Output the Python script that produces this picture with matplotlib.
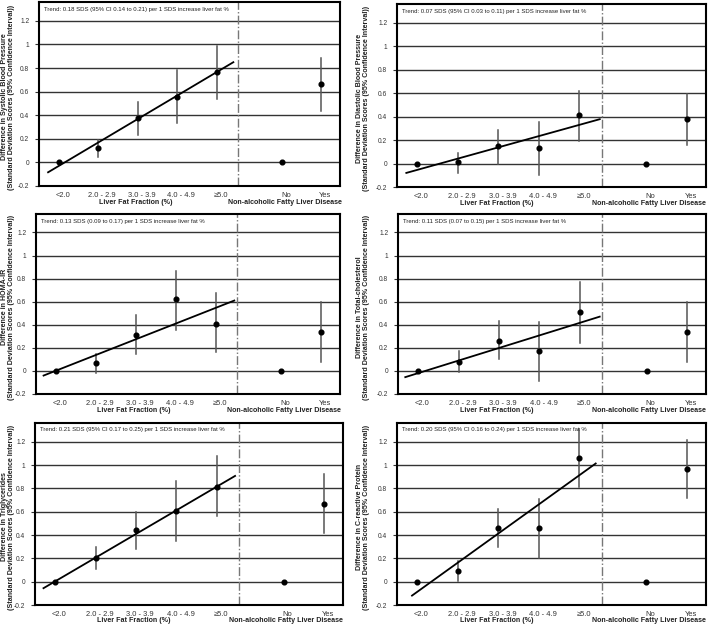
import matplotlib
matplotlib.use("Agg")
import matplotlib.pyplot as plt
import matplotlib.transforms as mtransforms

plt.rcParams['font.family'] = ['Liberation Sans', 'DejaVu Sans']

# ---- data ----
fat_categories = ["<2.0", "2.0 - 2.9", "3.0 - 3.9", "4.0 - 4.9", "\u22655.0"]
nafld_categories = ["No", "Yes"]
yticks = [-0.2, 0, 0.2, 0.4, 0.6, 0.8, 1, 1.2]
ytick_labels = ["-0.2", "0", "0.2", "0.4", "0.6", "0.8", "1", "1.2"]

titles = [
    "Difference in Systolic Blood Pressure",
    "Difference in Diastolic Blood Pressure",
    "Difference in HOMA-IR",
    "Difference in Total-cholesterol",
    "Difference in Triglycerides",
    "Difference in C-reactive Protein",
]
trend_texts = [
    "Trend: 0.18 SDS (95% CI 0.14 to 0.21) per 1 SDS increase liver fat %",
    "Trend: 0.07 SDS (95% CI 0.03 to 0.11) per 1 SDS increase liver fat %",
    "Trend: 0.13 SDS (0.09 to 0.17) per 1 SDS increase liver fat %",
    "Trend: 0.11 SDS (0.07 to 0.15) per 1 SDS increase liver fat %",
    "Trend: 0.21 SDS (95% CI 0.17 to 0.25) per 1 SDS increase liver fat %",
    "Trend: 0.20 SDS (95% CI 0.16 to 0.24) per 1 SDS increase liver fat %",
]

# liver fat categories: estimate, lower CI, upper CI (reference has no CI)
sbp_est = [0.0, 0.125, 0.375, 0.555, 0.765]
sbp_lo = [None, 0.05, 0.23, 0.33, 0.54]
sbp_hi = [None, 0.19, 0.51, 0.78, 0.99]
dbp_est = [0.0, 0.01, 0.15, 0.13, 0.41]
dbp_lo = [None, -0.08, 0.0, -0.10, 0.19]
dbp_hi = [None, 0.09, 0.29, 0.35, 0.62]
homa_est = [0.0, 0.065, 0.31, 0.62, 0.41]
homa_lo = [None, -0.02, 0.15, 0.355, 0.16]
homa_hi = [None, 0.15, 0.485, 0.87, 0.675]
chol_est = [0.0, 0.08, 0.26, 0.17, 0.51]
chol_lo = [None, -0.01, 0.10, -0.09, 0.245]
chol_hi = [None, 0.17, 0.43, 0.42, 0.77]
tg_est = [0.0, 0.20, 0.445, 0.61, 0.81]
tg_lo = [None, 0.107, 0.28, 0.35, 0.56]
tg_hi = [None, 0.30, 0.60, 0.865, 1.075]
crp_est = [0.0, 0.09, 0.46, 0.46, 1.06]
crp_lo = [None, 0.006, 0.30, 0.20, 0.81]
crp_hi = [None, 0.18, 0.625, 0.705, 1.31]

# NAFLD: No (reference), Yes
sbp_nafld = [0.0, 0.665]; sbp_nafld_lo = [None, 0.44]; sbp_nafld_hi = [None, 0.885]
dbp_nafld = [0.0, 0.38]; dbp_nafld_lo = [None, 0.16]; dbp_nafld_hi = [None, 0.595]
homa_nafld = [0.0, 0.34]; homa_nafld_lo = [None, 0.08]; homa_nafld_hi = [None, 0.595]
chol_nafld = [0.0, 0.34]; chol_nafld_lo = [None, 0.08]; chol_nafld_hi = [None, 0.595]
tg_nafld = [0.0, 0.67]; tg_nafld_lo = [None, 0.42]; tg_nafld_hi = [None, 0.925]
crp_nafld = [0.0, 0.965]; crp_nafld_lo = [None, 0.715]; crp_nafld_hi = [None, 1.215]

# trend line: intercept (at first category), slope per category, x extent
trend_intercept = [-0.030, -0.054, 0.002, -0.019, 0.003, -0.087]
trend_slope = [0.199, 0.096, 0.136, 0.109, 0.203, 0.250]
trend_x_start = [-0.27, -0.27, -0.31, -0.32, -0.29, -0.13]
trend_x_end = [4.42, 4.50, 4.47, 4.49, 4.45, 4.40]

panels = [
    (sbp_est, sbp_lo, sbp_hi, sbp_nafld, sbp_nafld_lo, sbp_nafld_hi),
    (dbp_est, dbp_lo, dbp_hi, dbp_nafld, dbp_nafld_lo, dbp_nafld_hi),
    (homa_est, homa_lo, homa_hi, homa_nafld, homa_nafld_lo, homa_nafld_hi),
    (chol_est, chol_lo, chol_hi, chol_nafld, chol_nafld_lo, chol_nafld_hi),
    (tg_est, tg_lo, tg_hi, tg_nafld, tg_nafld_lo, tg_nafld_hi),
    (crp_est, crp_lo, crp_hi, crp_nafld, crp_nafld_lo, crp_nafld_hi),
]

# ---- layout (pixel boxes: left, right, top, bottom, ylabel centre x) ----
W, H = 709, 629
fig = plt.figure(figsize=(W / 100, H / 100), dpi=100)
boxes = [
    (39, 340, 2, 186, 8),
    (397, 706, 4, 187, 363),
    (36, 340, 214, 394, 8),
    (398, 706, 214, 394, 363),
    (35, 343, 423, 605, 8),
    (397, 706, 423, 605, 363),
]

fat_x = [0, 1, 2, 3, 4]
nafld_x = [5.65, 6.65]
divider_x = 4.55
label_shift = 0.1

for i, (est, lo, hi, nest, nlo, nhi) in enumerate(panels):
    l, rr, t, b, ycx = boxes[i]
    ax = fig.add_axes([l / W, 1 - b / H, (rr - l) / W, (b - t) / H])
    ax.set_xlim(-0.5, 7.12)
    ax.set_ylim(-0.2, 1.36)
    ax.set_yticks(yticks)
    ax.set_yticklabels(ytick_labels, fontsize=4.8, color='#333333')
    ax.tick_params(axis='y', length=3, width=0.8, color='#333333', pad=4)
    ax.set_xticks([x + label_shift for x in fat_x + nafld_x])
    ax.set_xticklabels(fat_categories + nafld_categories, fontsize=5.4, color='#333333')
    ax.tick_params(axis='x', length=0, pad=4)
    for y in yticks[1:]:
        ax.axhline(y, color='#333333', lw=1.0, zorder=1)
    for s in ax.spines.values():
        s.set_linewidth(1.5)
        s.set_color('black')
    ax.axvline(divider_x, color='#777777', lw=1.0, ls='-.', zorder=1)

    # error bars
    for x, e, a, bb in zip(fat_x + nafld_x, est + nest, lo + nlo, hi + nhi):
        if a is not None:
            ax.plot([x, x], [a, bb], color='#555555', lw=1.1, zorder=2)
    ax.plot(fat_x + nafld_x, est + nest, 'o', color='black', ms=3.4, zorder=4)

    # trend line
    xs = [trend_x_start[i], trend_x_end[i]]
    ys = [trend_intercept[i] + trend_slope[i] * x for x in xs]
    ax.plot(xs, ys, color='black', lw=1.3, zorder=3)

    ax.text(5 / (rr - l), 1 - 7 / (b - t), trend_texts[i], transform=ax.transAxes,
            fontsize=4.3, color='#222222', va='center', ha='left')

    trans = mtransforms.blended_transform_factory(ax.transData, ax.transAxes)
    off = -16 / (b - t)
    ax.text(1.95, off, "Liver Fat Fraction (%)", transform=trans, fontsize=5.1,
            fontweight='bold', ha='center', va='center', color='#222222')
    ax.text(5.72, off, "Non-alcoholic Fatty Liver Disease", transform=trans,
            fontsize=5.1, fontweight='bold', ha='center', va='center', color='#222222')

    fig.text(ycx / W, 1 - ((t + b) / 2 + 3) / H,
             titles[i] + "\n(Standard Deviation Scores (95% Confidence Interval))",
             rotation=90, fontsize=5.1, fontweight='bold', ha='center', va='center',
             color='#222222', linespacing=0.95)

fig.savefig("out.png", dpi=100)
